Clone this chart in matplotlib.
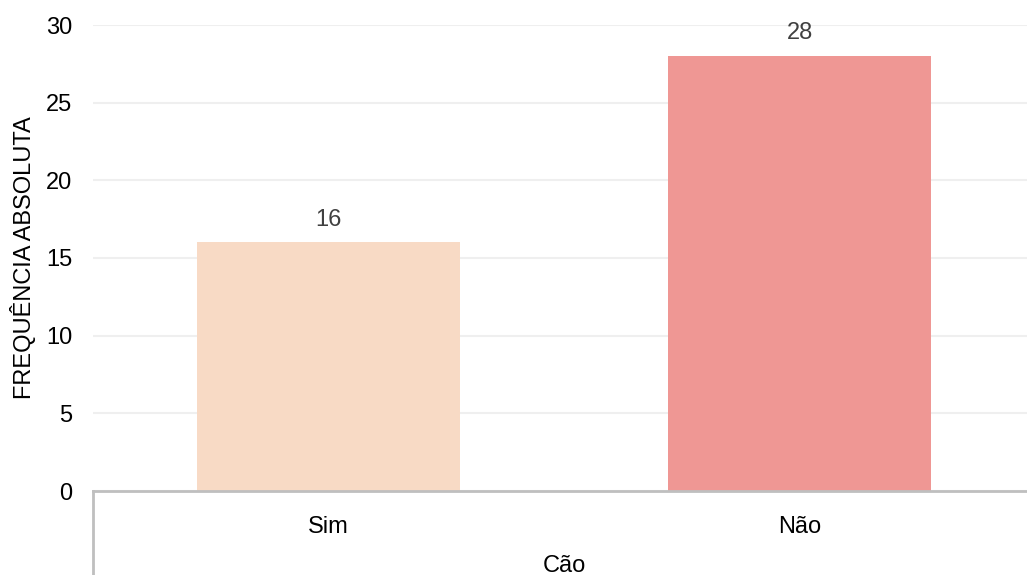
import matplotlib.pyplot as plt
import numpy as np

plt.rcParams['font.family'] = ['Liberation Sans', 'DejaVu Sans']

# frequencias absolutas por categoria
categorias = ["Sim", "Não"]
frequencias = [16, 28]
cores = ["#F8DAC5", "#EF9794"]
yticks = [0, 5, 10, 15, 20, 25, 30]

fig = plt.figure(figsize=(10.27, 5.75), dpi=100)
ax = fig.add_axes([93/1027, 1-491/575, 942/1027, 466/575])

x = np.arange(len(categorias))
barras = ax.bar(x, frequencias, width=0.56, color=cores, zorder=2)

# rotulos de valor acima das barras
for xi, v in zip(x, frequencias):
    ax.annotate(str(v), (xi, v), xytext=(0, 8.5), textcoords="offset points",
                ha="center", va="bottom", fontsize=17, color="#404040")

ax.set_xlim(-0.5, len(categorias) - 0.5)
ax.set_ylim(0, 30)
ax.set_yticks(yticks)
ax.set_xticks(x)
ax.set_xticklabels(categorias)
ax.tick_params(axis="y", length=0, pad=15, labelsize=17)
ax.tick_params(axis="x", length=0, pad=18, labelsize=17)
ax.yaxis.grid(True, color="#EFEFEF", linewidth=1.5, zorder=0)
ax.set_axisbelow(True)

for s in ["top", "right", "left"]:
    ax.spines[s].set_visible(False)
ax.spines["bottom"].set_color("#BFBFBF")
ax.spines["bottom"].set_linewidth(2)

# linha vertical do eixo de categorias
ax.plot([0, 0], [0, -0.2], transform=ax.transAxes, color="#BFBFBF",
        linewidth=2, clip_on=False)

ax.set_ylabel("FREQUÊNCIA ABSOLUTA", fontsize=17, labelpad=7)
ax.set_xlabel("Cão", fontsize=17, labelpad=12)

fig.savefig("out.png", dpi=100)
